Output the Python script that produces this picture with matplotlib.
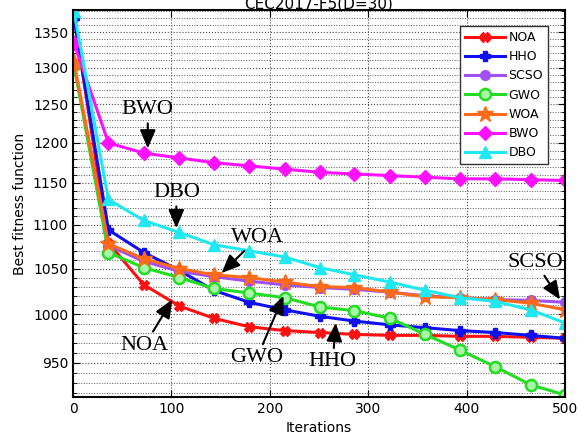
import matplotlib.pyplot as plt
from matplotlib.ticker import FixedLocator, NullFormatter

iters = [1, 36, 72, 108, 143, 179, 215, 251, 286, 322, 358, 393, 429, 465, 500]

noa = [1372, 1079, 1032, 1009, 996, 987, 983, 981, 979, 978, 978, 977, 977, 976, 975]
hho = [1370, 1094, 1068, 1048, 1026, 1013, 1005, 998, 993, 989, 986, 983, 981, 978, 975]
scso = [1305, 1076, 1058, 1047, 1041, 1036, 1032, 1029, 1027, 1024, 1020, 1018, 1016, 1015, 1013]
gwo = [1303, 1068, 1051, 1040, 1028, 1023, 1018, 1008, 1004, 996, 979, 963, 946, 928, 918]
woa = [1308, 1078, 1061, 1050, 1043, 1040, 1035, 1030, 1029, 1024, 1019, 1018, 1016, 1012, 1005]
bwo = [1334, 1200, 1187, 1181, 1175, 1171, 1167, 1163, 1161, 1159, 1157, 1155, 1155, 1154, 1153]
dbo = [1380, 1130, 1105, 1091, 1077, 1070, 1063, 1051, 1043, 1035, 1026, 1018, 1014, 1005, 991]

yticks = [950, 1000, 1050, 1100, 1150, 1200, 1250, 1300, 1350]
xticks = [0, 100, 200, 300, 400, 500]

fig = plt.figure(figsize=(5.78, 4.48), dpi=100)
ax = fig.add_axes([0.1263, 0.1138, 0.8512, 0.8639])

ax.plot(iters, noa, color='#ff1010', lw=2.2, marker='X', ms=6.5, label='NOA')
ax.plot(iters, hho, color='#1010ee', lw=2.2, marker='P', ms=7, label='HHO')
ax.plot(iters, scso, color='#a050f0', lw=2.2, marker='o', ms=7, label='SCSO')
ax.plot(iters, gwo, color='#22dd22', lw=2.2, marker='o', ms=8, mfc='#aaf5aa',
        mew=1.8, label='GWO')
ax.plot(iters, woa, color='#ff6a1a', lw=2.2, marker='*', ms=12, label='WOA')
ax.plot(iters, bwo, color='#ff10ff', lw=2.2, marker='D', ms=7, label='BWO')
ax.plot(iters, dbo, color='#20e8f0', lw=2.2, marker='^', ms=8, label='DBO')

# log scale y axis with ticks every 50 and minor grid every 10
ax.set_yscale('log')
allvals = noa + hho + scso + gwo + woa + bwo + dbo
ax.set_ylim(min(allvals) - 2, max(allvals) + 2)
ax.set_xlim(0, 500)
ax.yaxis.set_major_locator(FixedLocator(yticks))
ax.yaxis.set_major_formatter(plt.FixedFormatter([str(v) for v in yticks]))
ax.yaxis.set_minor_locator(FixedLocator([v for v in range(920, 1390, 10) if v % 50]))
ax.yaxis.set_minor_formatter(NullFormatter())
ax.set_xticks(xticks)

ax.grid(which='major', ls=':', color='0.3', lw=0.8)
ax.grid(which='minor', axis='y', ls=':', color='0.35', lw=0.7)
ax.tick_params(which='both', direction='in', top=True, right=True, labelsize=10)
ax.tick_params(which='major', length=5)
ax.tick_params(which='minor', length=3)
for s in ax.spines.values():
    s.set_linewidth(1.5)

ax.set_xlabel('Iterations', fontsize=10)
ax.set_ylabel('Best fitness function', fontsize=10)
fig.text(0.552, 0.98, 'CEC2017-F5(D=30)', ha='center', va='baseline', fontsize=11)

leg = ax.legend(loc='upper right', fontsize=9, fancybox=False, edgecolor='0.2',
                handlelength=3.2, borderpad=0.4, labelspacing=0.5,
                handletextpad=0.3, bbox_to_anchor=(0.978, 0.975), framealpha=1)
leg.get_frame().set_linewidth(1.0)

arrow = dict(arrowstyle='-|>,head_length=0.7,head_width=0.3', color='k', lw=1.5,
             shrinkA=1, shrinkB=0)
notes = [
    ('BWO', (76, 1193), (76, 1243)),
    ('DBO', (105, 1096), (105, 1138)),
    ('WOA', (151, 1045), (188, 1085)),
    ('NOA', (101, 1016), (73, 968)),
    ('GWO', (214, 1020), (187, 955)),
    ('HHO', (267, 991), (264, 951)),
    ('SCSO', (495, 1016), (470, 1057)),
]
for name, head, pos in notes:
    ax.annotate(name, xy=head, xytext=pos, ha='center', va='center',
                fontsize=16, family='Liberation Serif', arrowprops=arrow)

fig.savefig('out.png', dpi=100)
